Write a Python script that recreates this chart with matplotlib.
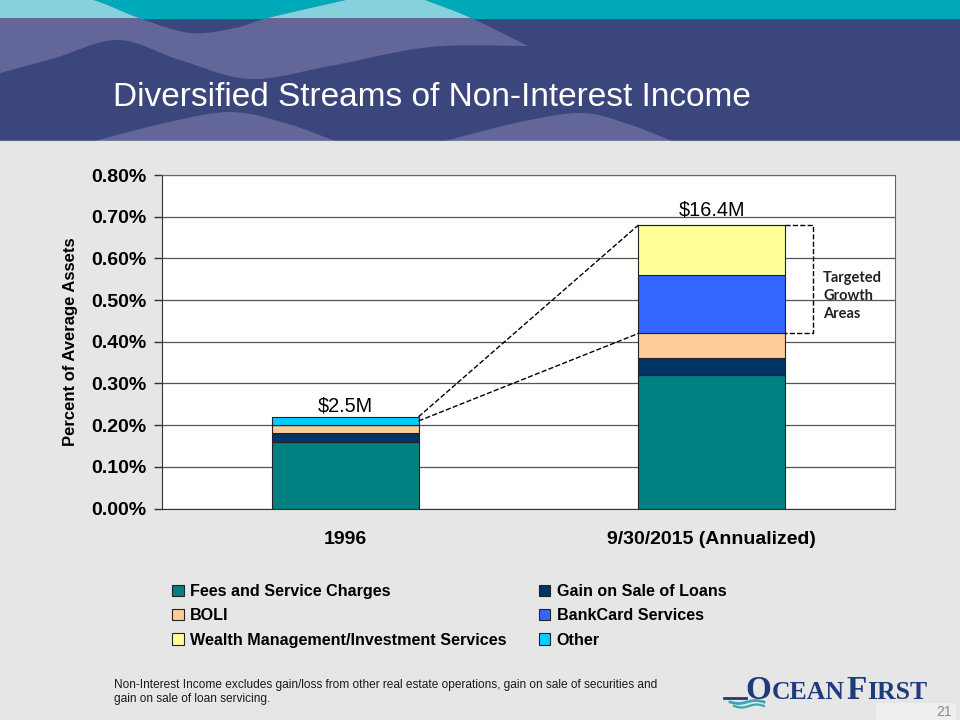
import numpy as np
import matplotlib
matplotlib.use('Agg')
import matplotlib.pyplot as plt
from matplotlib.patches import Rectangle, Polygon
from matplotlib.ticker import StrMethodFormatter

plt.rcParams['font.family'] = ['Liberation Sans', 'DejaVu Sans']

## chart data (percent of average assets)
categories = ['1996', '9/30/2015 (Annualized)']
series_names = ['Fees and Service Charges', 'Gain on Sale of Loans', 'BOLI',
                'BankCard Services', 'Wealth Management/Investment Services', 'Other']
fees = [0.16, 0.32]
gain_loans = [0.02, 0.04]
boli = [0.02, 0.06]
bankcard = [0.00, 0.14]
wealth = [0.00, 0.12]
other = [0.02, 0.00]
totals_text = ['$2.5M', '$16.4M']
colors = ['#008080', '#003366', '#FFCC99', '#3366FF', '#FFFF99', '#00CCFF']


def smooth(pts, n=25):
    # catmull-rom through the knots, only used for the header waves
    pts = np.array(pts, float)
    p = np.vstack([pts[0], pts, pts[-1]])
    out = []
    t = np.linspace(0, 1, n)[:, None]
    for i in range(1, len(p) - 2):
        p0, p1, p2, p3 = p[i - 1], p[i], p[i + 1], p[i + 2]
        out.append(0.5 * (2 * p1 + (-p0 + p2) * t + (2 * p0 - 5 * p1 + 4 * p2 - p3) * t ** 2
                          + (-p0 + 3 * p1 - 3 * p2 + p3) * t ** 3))
    return np.vstack(out)


fig = plt.figure(figsize=(9.6, 7.2), dpi=100, facecolor='#E6E6E6')

## slide background / header drawn in pixel coords
bg = fig.add_axes([0, 0, 1, 1], zorder=-1)
bg.set_xlim(0, 960)
bg.set_ylim(720, 0)
bg.axis('off')
bg.add_patch(Rectangle((0, 0), 960, 140, color='#3B477C'))
band = Rectangle((0, 0), 960, 18, color='#00A9B9')
bg.add_patch(band)

upper1 = smooth([(40, -10), (93, 0), (139, 18), (190, 33), (235, 28), (268, 18), (346, 0), (390, -10)])
upper2 = smooth([(400, -10), (425, 0), (471, 18), (528, 46)])
lower = smooth([(528, 46), (430, 47), (330, 66), (250, 79), (180, 60), (118, 40), (55, 58), (0, 73)])
waveA = np.vstack([[(0, -10)], upper1, upper2, lower])
bg.add_patch(Polygon(waveA, closed=True, color='#636698', lw=0))
clipped = Polygon(waveA, closed=True, color='#86D2DC', lw=0)
bg.add_patch(clipped)
clip_band = Rectangle((0, 0), 960, 18, transform=bg.transData)
clipped.set_clip_path(clip_band)

for knots in [[(95, 141), (165, 123), (230, 112), (285, 123), (335, 141)],
              [(445, 141), (520, 122), (582, 113), (628, 124), (672, 141)]]:
    bg.add_patch(Polygon(smooth(knots), closed=True, color='#636698', lw=0))
bg.plot([0, 960], [140.5, 140.5], color='#DDE1EA', lw=1)

bg.text(113, 106, 'Diversified Streams of Non-Interest Income', color='white',
        fontsize=24, va='baseline', ha='left')

## footer note
bg.text(114, 685, 'Non-Interest Income excludes gain/loss from other real estate operations, gain on sale of securities and',
        fontsize=8.6, va='center', color='#1a1a1a')
bg.text(114, 699, 'gain on sale of loan servicing.', fontsize=8.6, va='center', color='#1a1a1a')

## logo
navy = '#1E3C7C'
bg.text(745, 699, 'O', family='Liberation Serif', fontweight='bold', fontsize=24, color=navy, va='baseline')
bg.text(772, 699, 'CEAN', family='Liberation Serif', fontweight='bold', fontsize=18.5, color=navy, va='baseline')
bg.text(846, 699, 'F', family='Liberation Serif', fontweight='bold', fontsize=24, color=navy, va='baseline')
bg.text(867, 699, 'IRST', family='Liberation Serif', fontweight='bold', fontsize=18.5, color=navy, va='baseline')
wx = np.linspace(0, 1, 40)
bg.plot(724 + 22 * wx, 698 + 0 * wx, color=navy, lw=2)
bg.plot(730 + 34 * wx, 702 + 1.5 * np.sin(wx * 2 * np.pi), color='#3AA8B6', lw=2)
bg.plot(734 + 30 * wx, 706 + 1.5 * np.sin(wx * 2 * np.pi), color='#3AA8B6', lw=1.6)
bg.add_patch(Rectangle((876, 703), 80, 17, color='#EEEEEE', lw=0))
bg.text(952, 712, '21', fontsize=10, color='#8C8C8C', ha='right', va='center')

## chart
ax = fig.add_axes([162 / 960, (720 - 508.5) / 720, 733 / 960, 333.5 / 720])
ax.set_facecolor('white')
x = np.arange(len(categories))
series = [fees, gain_loans, boli, bankcard, wealth, other]
bottom = np.zeros(len(categories))
handles = []
for name, vals, col in zip(series_names, series, colors):
    h = ax.bar(x, vals, 0.4, bottom=bottom, color=col, edgecolor='#222222', lw=0.8,
               label=name, zorder=3)
    handles.append(h)
    bottom = bottom + np.array(vals)

ax.set_xlim(-0.5, 1.5)
ax.set_ylim(0, 0.8)
ax.set_yticks(np.arange(0, 0.81, 0.1))
ax.yaxis.set_major_formatter(StrMethodFormatter('{x:.2f}%'))
ax.yaxis.grid(True, color='#555555', lw=0.9, zorder=0)
ax.set_axisbelow(True)
ax.set_xticks(x)
ax.set_xticklabels(categories, fontsize=14, fontweight='bold')
ax.get_xticklabels()[0].set_x(0.03)
ax.tick_params(axis='x', length=0, pad=16)
ax.tick_params(axis='y', length=6, width=1, color='#333333', pad=5, labelsize=14)
for lab in ax.get_yticklabels():
    lab.set_fontweight('bold')
ax.set_ylabel('Percent of Average Assets', fontsize=12, fontweight='bold', labelpad=10)
for s in ['top', 'right']:
    ax.spines[s].set_color('#666666')
for s in ['left', 'bottom']:
    ax.spines[s].set_color('#333333')

## total labels
for xi, tot, txt, off in zip(x, bottom, totals_text, [1, 4]):
    ax.annotate(txt, (xi, tot), xytext=(0, off), textcoords='offset points',
                ha='center', va='bottom', fontsize=14.3)

## dashed connectors to the growth areas
half = 0.2
lo_top2 = fees[1] + gain_loans[1] + boli[1]
ax.plot([x[0] + half, x[1] - half], [bottom[0], bottom[1]], '--', color='black', lw=1, zorder=4)
ax.plot([x[0] + half, x[1] - half], [bottom[0] - 0.01, lo_top2], '--', color='black', lw=1, zorder=4)
ax.plot([x[1] + half, 1.276, 1.276, x[1] + half], [bottom[1], bottom[1], lo_top2, lo_top2],
        '--', color='black', lw=1, zorder=4, clip_on=False)
ax.text(1.304, 0.51, 'Targeted\nGrowth\nAreas', family=['Lato', 'DejaVu Sans'],
        fontweight='bold', fontsize=10.5, ha='left', va='center', linespacing=1.35, color='#222222')

## legend, row-major like the original
order = [0, 2, 4, 1, 3, 5]
leg = fig.legend([handles[i] for i in order], [series_names[i] for i in order],
                 loc='upper left', bbox_to_anchor=(172 / 960, 1 - 584 / 720), ncol=2,
                 frameon=False, prop={'weight': 'bold', 'size': 11.6}, handlelength=0.72,
                 handleheight=0.72, handletextpad=0.4, columnspacing=2.0, labelspacing=0.58,
                 borderpad=0, borderaxespad=0)

fig.savefig('out.png', dpi=100, facecolor=fig.get_facecolor())
